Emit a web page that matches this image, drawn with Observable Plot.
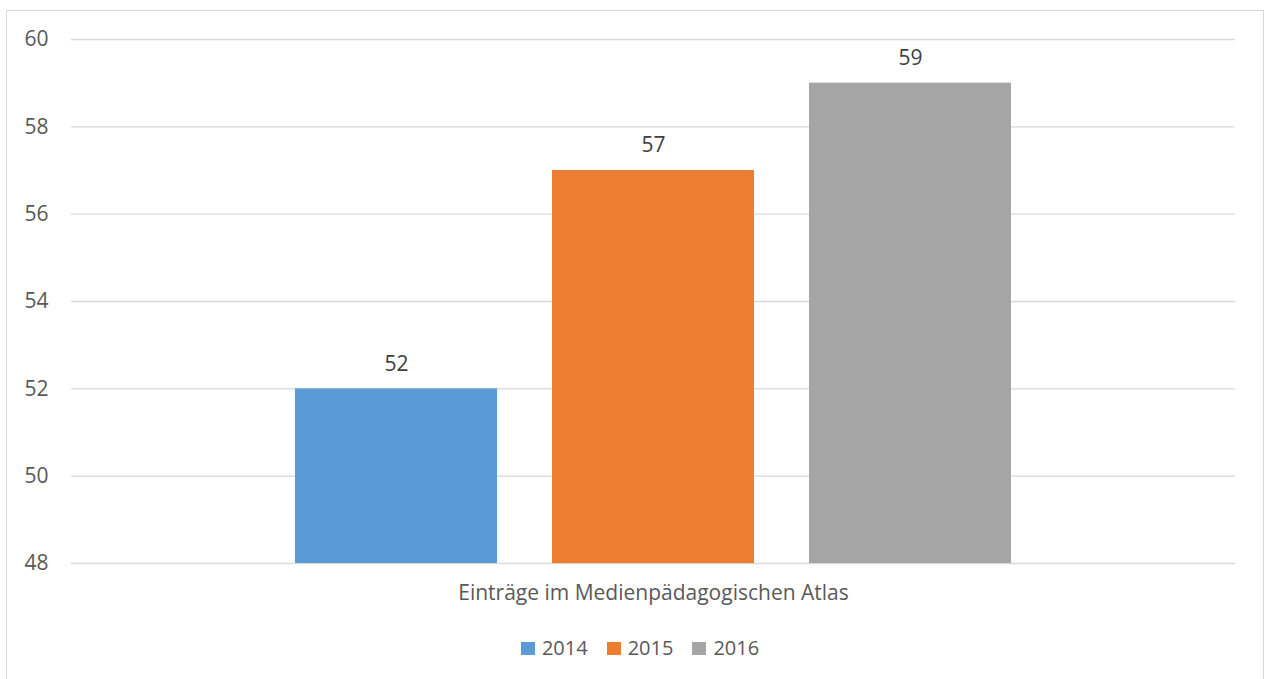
<!DOCTYPE html>
<html>
<head>
<meta charset="utf-8">
<script src="https://cdn.jsdelivr.net/npm/d3@7"></script>
<script src="https://cdn.jsdelivr.net/npm/@observablehq/plot@0.6"></script>
<style>
  html, body { margin: 0; padding: 0; background: white; }
  #box {
    position: absolute; left: 6px; top: 10px; width: 1256px; height: 700px;
    border: 1px solid #d9d9d9; border-bottom: none; background: white;
  }
  #legend {
    display: flex; justify-content: center; align-items: center; gap: 19px;
    font-family: "Open Sans", sans-serif; font-size: 20px; color: #595959;
    margin-top: 25px; line-height: 24px; padding-left: 10px;
  }
  .item { display: flex; align-items: center; gap: 7px; }
  .sw { width: 14px; height: 13px; display: inline-block; }
</style>
</head>
<body>
<div id="box"></div>
<script>
const category = "Einträge im Medienpädagogischen Atlas";
const years = ["2014", "2015", "2016"];
const values = [52, 57, 59];
const colors = ["#5B9BD5", "#ED7D31", "#A5A5A5"];
const yTicks = [48, 50, 52, 54, 56, 58, 60];

const data = years.map((year, i) => ({year, value: values[i]}));

const chart = Plot.plot({
  width: 1256,
  height: 600,
  marginTop: 28,
  marginBottom: 48,
  marginLeft: 64,
  marginRight: 28,
  style: {fontFamily: "Open Sans, sans-serif", fontSize: "21px", color: "#595959", background: "white"},
  x: {domain: years, range: [287, 1006], paddingInner: 0.213, paddingOuter: 0, axis: null},
  y: {domain: [48, 60]},
  color: {domain: years, range: colors},
  marks: [
    Plot.ruleY(yTicks, {stroke: "#d9d9d9", strokeWidth: 1.3}),
    Plot.axisY({ticks: yTicks, tickSize: 0, tickPadding: 23, label: null, fill: "#595959", fontSize: 21}),
    Plot.barY(data, {x: "year", y1: d => 48, y2: "value", fill: "year"}),
    Plot.text(data, {x: "year", y: "value", text: d => String(d.value), dy: -25, fill: "#404040", fontSize: 21}),
    Plot.text([category], {frameAnchor: "bottom", lineAnchor: "middle", dy: 30, text: d => d, fill: "#595959", fontSize: 21})
  ]
});

const box = document.getElementById("box");
box.appendChild(chart);

const legend = document.createElement("div");
legend.id = "legend";
years.forEach((y, i) => {
  const item = document.createElement("span");
  item.className = "item";
  const sw = document.createElement("span");
  sw.className = "sw";
  sw.style.background = colors[i];
  const t = document.createElement("span");
  t.textContent = y;
  item.appendChild(sw);
  item.appendChild(t);
  legend.appendChild(item);
});
box.appendChild(legend);
</script>
</body>
</html>
